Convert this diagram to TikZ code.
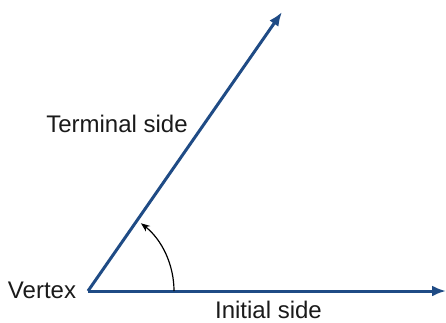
\documentclass[tikz,border=0pt]{standalone}
\usepackage{fontspec}
\setmainfont{Liberation Sans}
\usetikzlibrary{arrows.meta}
\definecolor{raycol}{HTML}{1F4B85}
\definecolor{txtcol}{HTML}{1A1A1A}
\tikzset{
  ray/.style={draw=raycol, line width=3pt, -{Latex[length=14pt,width=11pt]}},
  lbl/.style={text=txtcol, font=\fontsize{24}{28}\selectfont, inner sep=0pt, anchor=base},
  anglearc/.style={draw=black, line width=1.2pt, -{Stealth[length=9pt,width=7pt]}}
}
\begin{document}
\begin{tikzpicture}[x=1pt,y=-1pt]
\useasboundingbox (0,0) rectangle (446,322);
\coordinate (V) at (88,291);
\coordinate (T) at (282,12);
\coordinate (I) at (446,291);
\coordinate (A0) at (174,291);
\draw[ray] (V) -- (T);
\draw[ray] (V) -- (I);
\draw[anglearc] (A0) arc[start angle=0, end angle=-52, radius=86];
\node[lbl] (vertex) at (42,298) {Vertex};
\node[lbl] (term) at (117,132) {Terminal side};
\node[lbl] (init) at (268.5,318) {Initial side};
\end{tikzpicture}
\end{document}
